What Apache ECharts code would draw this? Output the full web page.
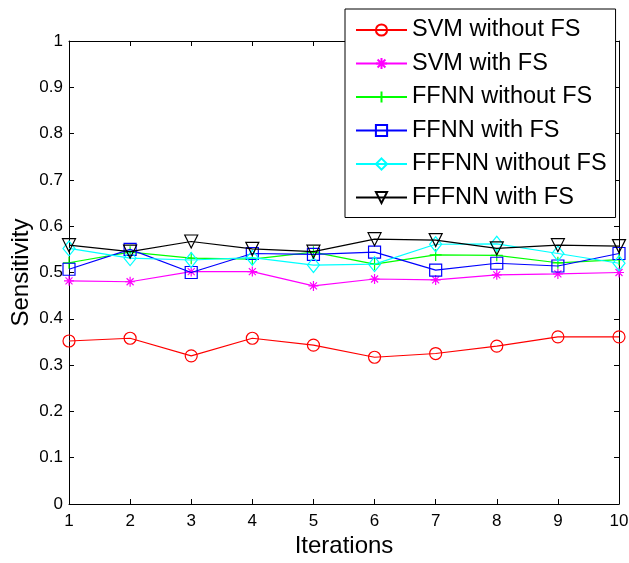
<!DOCTYPE html>
<html>
<head>
<meta charset="utf-8">
<script src="https://cdn.jsdelivr.net/npm/echarts@6/dist/echarts.min.js"></script>
<style>html,body{margin:0;padding:0;background:#fff;}#c{width:629px;height:563px;}</style>
</head>
<body>
<div id="c"></div>
<script>
var iterations = [1, 2, 3, 4, 5, 6, 7, 8, 9, 10];
var svmWithoutFS   = [0.352, 0.358, 0.320, 0.358, 0.343, 0.317, 0.325, 0.341, 0.361, 0.361];
var svmWithFS      = [0.482, 0.480, 0.502, 0.502, 0.471, 0.486, 0.484, 0.495, 0.497, 0.500];
var ffnnWithoutFS  = [0.521, 0.544, 0.531, 0.529, 0.544, 0.518, 0.538, 0.537, 0.521, 0.528];
var ffnnWithFS     = [0.507, 0.550, 0.500, 0.541, 0.539, 0.544, 0.505, 0.520, 0.514, 0.541];
var fffnnWithoutFS = [0.552, 0.531, 0.527, 0.532, 0.516, 0.518, 0.561, 0.562, 0.541, 0.520];
var fffnnWithFS    = [0.559, 0.545, 0.567, 0.551, 0.545, 0.572, 0.570, 0.552, 0.559, 0.557];
var seriesNames = ['SVM without FS', 'SVM with FS', 'FFNN without FS', 'FFNN with FS', 'FFFNN without FS', 'FFFNN with FS'];
var yTicks = [0, 0.1, 0.2, 0.3, 0.4, 0.5, 0.6, 0.7, 0.8, 0.9, 1];

var FONT = 'Liberation Sans, Arial, sans-serif';
function pairs(v) { return iterations.map(function (x, i) { return [x, v[i]]; }); }

var defs = [
  { data: svmWithoutFS,   color: '#ff0000', symbol: 'circle', size: 12, rotate: 0 },
  { data: svmWithFS,      color: '#ff00ff', symbol: 'path://M0,5L10,5M5,0L5,10M1.5,1.5L8.5,8.5M1.5,8.5L8.5,1.5', size: 10, rotate: 0 },
  { data: ffnnWithoutFS,  color: '#00ff00', symbol: 'path://M0,5L10,5M5,0L5,10', size: 12, rotate: 0 },
  { data: ffnnWithFS,     color: '#0000ff', symbol: 'rect', size: 12, rotate: 0 },
  { data: fffnnWithoutFS, color: '#00ffff', symbol: 'diamond', size: [12, 15], rotate: 0 },
  { data: fffnnWithFS,    color: '#000000', symbol: 'triangle', size: 13, rotate: 180 }
];

var series = defs.map(function (d, i) {
  return {
    name: seriesNames[i],
    type: 'line',
    xAxisIndex: 0, yAxisIndex: 0,
    data: pairs(d.data),
    symbol: d.symbol,
    symbolSize: d.size,
    symbolRotate: d.rotate,
    showAllSymbol: true,
    z: 2 + i,
    lineStyle: { color: d.color, width: 1.2 },
    itemStyle: { color: 'rgba(0,0,0,0)', borderColor: d.color, borderWidth: 1.2 },
    emphasis: { disabled: true },
    animation: false
  };
});

var chart = echarts.init(document.getElementById('c'), null, { renderer: 'canvas' });
chart.setOption({
  backgroundColor: '#ffffff',
  animation: false,
  grid: { left: 69, right: 10, top: 41, bottom: 59, containLabel: false, outerBoundsMode: 'none' },
  xAxis: [
    {
      type: 'value', min: 1, max: 10, interval: 1,
      name: 'Iterations', nameLocation: 'middle', nameGap: 30, nameMoveOverlap: false,
      nameTextStyle: { fontFamily: FONT, fontSize: 24, color: '#000' },
      axisLine: { show: true, onZero: false, lineStyle: { color: '#000', width: 1 } },
      axisTick: { show: true, inside: true, length: 5, lineStyle: { color: '#000' } },
      axisLabel: { fontFamily: FONT, fontSize: 17, color: '#000', margin: 9 },
      splitLine: { show: false }
    },
    {
      type: 'value', min: 1, max: 10, interval: 1, position: 'top',
      axisLine: { show: true, onZero: false, lineStyle: { color: '#000', width: 1 } },
      axisTick: { show: true, inside: true, length: 5, lineStyle: { color: '#000' } },
      axisLabel: { show: false },
      splitLine: { show: false }
    }
  ],
  yAxis: [
    {
      type: 'value', min: 0, max: 1, interval: 0.1,
      name: 'Sensitivity', nameLocation: 'middle', nameGap: 36, nameMoveOverlap: false,
      nameTextStyle: { fontFamily: FONT, fontSize: 24, color: '#000' },
      axisLine: { show: true, onZero: false, lineStyle: { color: '#000', width: 1 } },
      axisTick: { show: true, inside: true, length: 5, lineStyle: { color: '#000' } },
      axisLabel: {
        fontFamily: FONT, fontSize: 17, color: '#000', margin: 6,
        formatter: function (v) { var r = Math.round(v * 10) / 10; return yTicks.indexOf(r) >= 0 ? String(r) : ''; }
      },
      splitLine: { show: false }
    },
    {
      type: 'value', min: 0, max: 1, interval: 0.1, position: 'right',
      axisLine: { show: true, onZero: false, lineStyle: { color: '#000', width: 1 } },
      axisTick: { show: true, inside: true, length: 5, lineStyle: { color: '#000' } },
      axisLabel: { show: false },
      splitLine: { show: false }
    }
  ],
  legend: {
    orient: 'vertical',
    left: 345, top: 9,
    padding: [9, 9, 8, 10],
    itemWidth: 51, itemHeight: 14, itemGap: 9.5,
    backgroundColor: '#ffffff',
    borderColor: '#000', borderWidth: 1, borderRadius: 0,
    textStyle: { fontFamily: FONT, fontSize: 23.5, color: '#000', lineHeight: 23 },
    data: seriesNames,
    selectedMode: false
  },
  series: series
});
</script>
</body>
</html>
